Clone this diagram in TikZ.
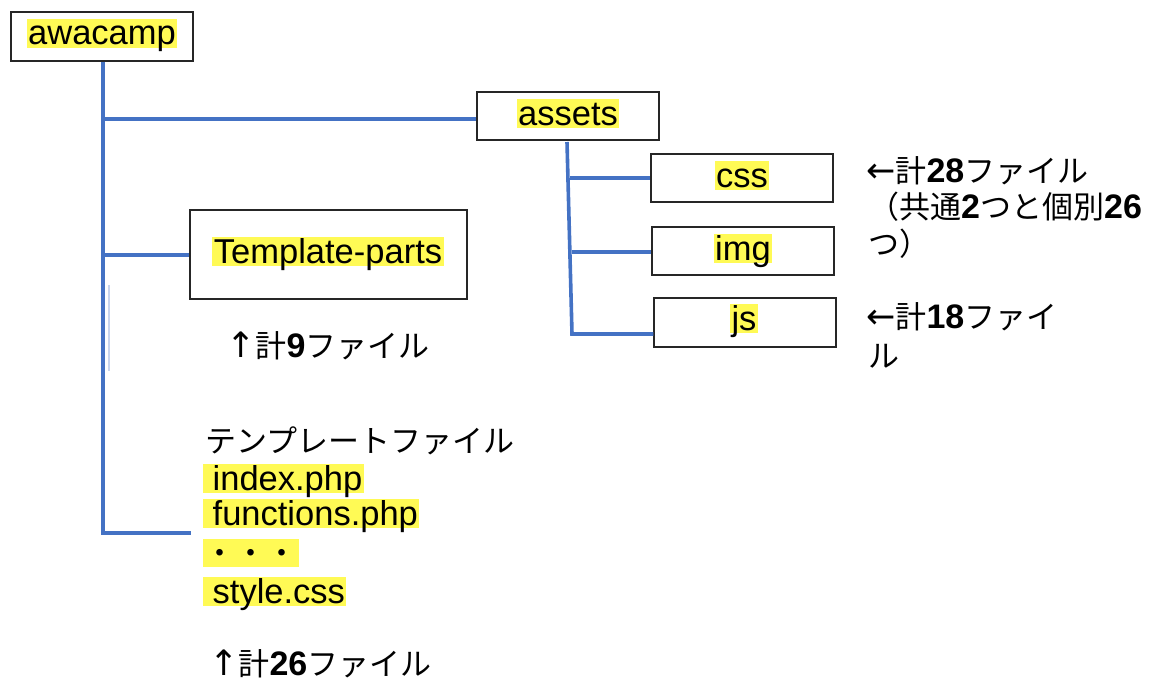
\documentclass[tikz,border=0pt]{standalone}
\usepackage{fontspec}
\setmainfont{Liberation Sans}
\newfontfamily\jp{Noto Sans CJK JP}
\newfontfamily\arf{DejaVu Sans}
\definecolor{hl}{RGB}{255,250,85}
\definecolor{ln}{RGB}{68,114,196}
\definecolor{faint}{RGB}{200,212,236}
\newcommand\dg[1]{{\normalfont\bfseries\fontsize{34}{40}\selectfont #1}}
\newcommand\ar[1]{{\arf\fontsize{35}{40}\selectfont #1}}
\begin{document}
\begin{tikzpicture}[x=1pt,y=-1pt,
  box/.style={draw=black!85, line width=1.3pt, inner sep=0pt, fill=white},
  conn/.style={draw=ln, line width=3.6pt},
  lat/.style={font=\fontsize{34.5}{40}\selectfont, inner xsep=1.5pt, inner ysep=0pt,
              text height=26pt, text depth=3pt, fill=hl},
  jpt/.style={font=\fontsize{31}{37}\selectfont\jp, inner sep=0pt, anchor=base west}]
\useasboundingbox (0,0) rectangle (1153,682);

% boxes
\node[box, minimum width=182pt, minimum height=49pt] (awacamp) at (102,36.5) {};
\node[box, minimum width=182pt, minimum height=48pt] (assets) at (568,116) {};
\node[box, minimum width=182pt, minimum height=48pt] (css) at (742,178) {};
\node[box, minimum width=182pt, minimum height=48pt] (img) at (743,251) {};
\node[box, minimum width=182pt, minimum height=49pt] (js) at (745,322.5) {};
\node[box, minimum width=277pt, minimum height=89pt] (tp) at (328.5,254.5) {};

% connector points
\coordinate (trunkEnd) at (103,533);
\coordinate (filesEnd) at (191,533);
\coordinate (aTop) at (567,142);
\coordinate (aBot) at (572,334);

% connectors
\draw[conn, line join=miter] (awacamp.south -| trunkEnd) -- (trunkEnd) -- (filesEnd);
\draw[conn] (105,119) -- (assets.west |- 0,119);
\draw[conn] (105,255) -- (tp.west |- 0,255);
\draw[conn, line join=miter] (aTop) -- (aBot) -- (js.west |- aBot);
\draw[conn] (570,178) -- (css.west);
\draw[conn] (571.5,252) -- (img.west |- 0,252);

% faint stray line
\draw[faint, line width=2pt] (109,285) -- (109,371);

% box labels
\node[lat, anchor=base] (tAwacamp) at (102,45) {awacamp};
\node[lat, anchor=base] (tAssets) at (568,125) {assets};
\node[lat, anchor=base] (tCss) at (742,187) {css};
\node[lat, anchor=base] (tImg) at (743,260) {img};
\node[lat, anchor=base] (tJs) at (744,330) {js};
\node[lat, anchor=base] (tTp) at (328,263) {Template-parts};

% notes
\node[jpt] (n9) at (226,357) {\ar{↑}計\dg{9}ファイル};
\node[jpt] (r1) at (866,182) {\ar{←}計\dg{28}ファイル};
\node[jpt] (r2) at (868,218) {（共通\dg{2}つと個別\dg{26}};
\node[jpt] (r3) at (868,255) {つ）};
\node[jpt] (r4) at (866,328) {\ar{←}計\dg{18}ファイ};
\node[jpt] (r5) at (868,367) {ル};

% template files list
\node[jpt] (tf) at (205,452) {テンプレートファイル};
\node[lat, anchor=base west] (f1) at (203,490) {\hspace*{8pt}index.php};
\node[lat, anchor=base west] (f2) at (203,525) {\hspace*{8pt}functions.php};
\node[lat, anchor=base west, font=\fontsize{31}{37}\selectfont\jp, text height=25pt] (f3) at (203,564) {・・・};
\node[lat, anchor=base west] (f4) at (203,603) {\hspace*{8pt}style.css};
\node[jpt] (n26) at (209,675) {\ar{↑}計\dg{26}ファイル};
\end{tikzpicture}
\end{document}
